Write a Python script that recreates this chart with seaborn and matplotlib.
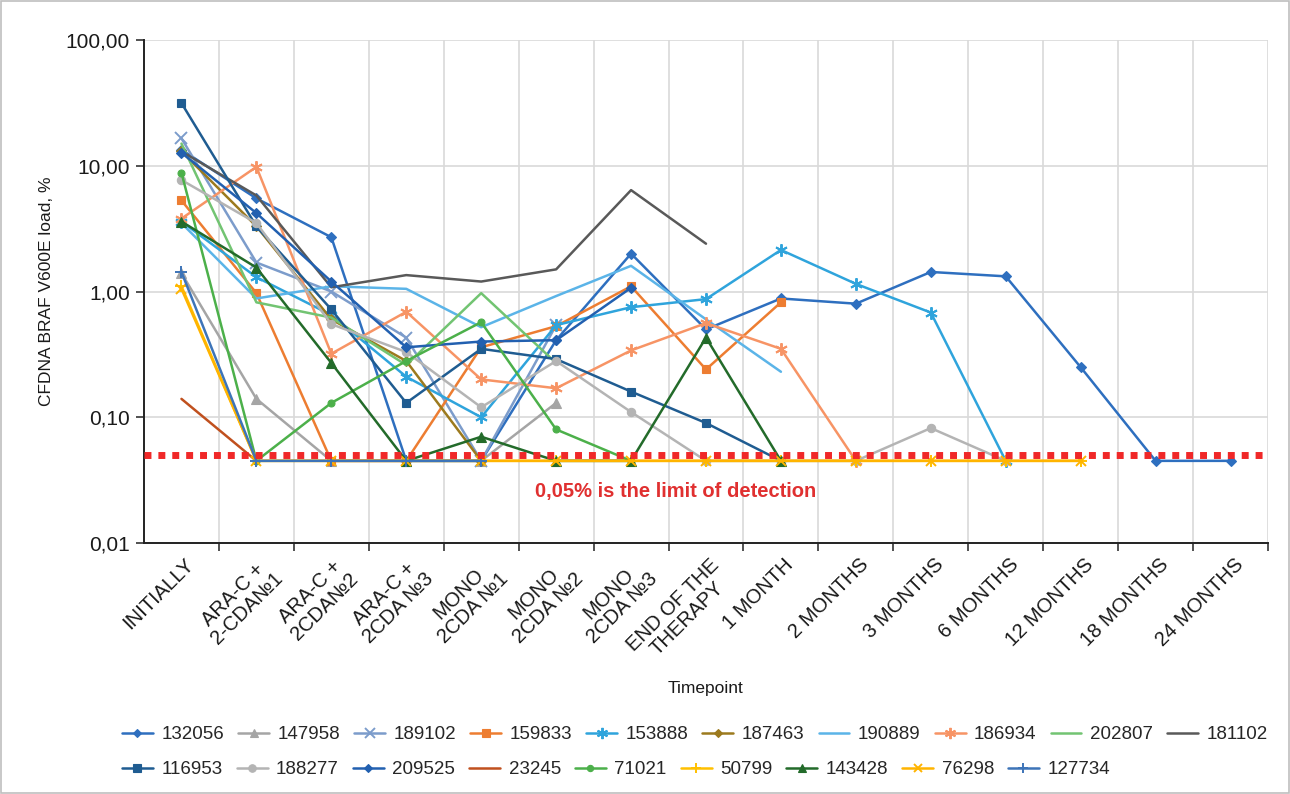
import numpy as np
import pandas as pd
import matplotlib
matplotlib.use("Agg")
import matplotlib.pyplot as plt
import matplotlib.transforms as mtransforms
from matplotlib.lines import Line2D
from matplotlib.patches import Rectangle
from matplotlib import font_manager
import seaborn as sns

# ---- data -----------------------------------------------------------------
timepoints = [
    "INITIALLY", "ARA-C +\n2-CDA№1", "ARA-C +\n2CDA№2", "ARA-C +\n2CDA №3",
    "MONO\n2CDA №1", "MONO\n2CDA №2", "MONO\n2CDA №3", "END OF THE\nTHERAPY",
    "1 MONTH", "2 MONTHS", "3 MONTHS", "6 MONTHS", "12 MONTHS", "18 MONTHS",
    "24 MONTHS",
]

LOD = 0.05      # limit of detection, %
ND = 0.045      # plotted level for samples below the limit of detection

patients = ["132056", "147958", "189102", "159833", "153888", "187463",
            "190889", "186934", "202807", "181102", "116953", "188277",
            "209525", "23245", "71021", "50799", "143428", "76298", "127734"]

p132056 = [13.4, 5.5, 2.7, ND, ND, 0.41, 2.0, 0.50, 0.88, 0.80, 1.43, 1.32, 0.25, ND, ND]
p147958 = [1.4, 0.14, ND, ND, ND, 0.13]
p189102 = [16.5, 1.7, 1.0, 0.43, ND, 0.54]
p159833 = [5.3, 0.97, ND, ND, 0.36, 0.53, 1.1, 0.24, 0.82]
p153888 = [3.6, 1.3, 0.65, 0.21, 0.10, 0.54, 0.75, 0.87, 2.14, 1.15, 0.68, ND]
p187463 = [13.0, 3.3, 0.60, 0.28, ND]
p190889 = [3.5, 0.88, 1.1, 1.05, 0.52, 0.92, 1.6, 0.60, 0.23]
p186934 = [3.8, 9.8, 0.32, 0.69, 0.20, 0.17, 0.34, 0.56, 0.35, ND]
p202807 = [15.0, 0.82, 0.62, 0.26, 0.97, 0.27]
p181102 = [13.0, 5.8, 1.08, 1.35, 1.2, 1.5, 6.4, 2.4]
p116953 = [31.5, 3.3, 0.72, 0.13, 0.35, 0.29, 0.16, 0.09, ND]
p188277 = [7.7, 3.5, 0.55, 0.33, 0.12, 0.28, 0.11, ND, ND, ND, 0.082, ND]
p209525 = [12.7, 4.2, 1.2, 0.36, 0.40, 0.41, 1.07]
p23245 = [0.14, ND]
p71021 = [8.8, ND, 0.13, 0.28, 0.57, 0.08, ND]
p50799 = [1.1, ND, ND, ND, ND, ND, ND, ND, ND, ND, ND, ND, ND]
p143428 = [3.6, 1.55, 0.27, ND, 0.07, ND, ND, 0.43, ND]
p76298 = [1.05, ND, ND, ND, ND, ND, ND, ND, ND, ND, ND, ND, ND]
p127734 = [1.43, ND, ND, ND, ND]

series_values = [p132056, p147958, p189102, p159833, p153888, p187463,
                 p190889, p186934, p202807, p181102, p116953, p188277,
                 p209525, p23245, p71021, p50799, p143428, p76298, p127734]

ytick_values = [0.01, 0.1, 1, 10, 100]
ytick_labels = ["0,01", "0,10", "1,00", "10,00", "100,00"]

# ---- styles ---------------------------------------------------------------
ASTER = (6, 2, 0)
styles = {
    "132056": ("#2E6FBF", "D", 5),
    "147958": ("#A5A5A5", "^", 7),
    "189102": ("#7C9CCB", "x", 8),
    "159833": ("#ED7D31", "s", 6),
    "153888": ("#2FA4DC", ASTER, 9),
    "187463": ("#9C7A1E", "D", 5),
    "190889": ("#5BB4E8", None, 0),
    "186934": ("#F79465", ASTER, 9),
    "202807": ("#72C472", None, 0),
    "181102": ("#595959", None, 0),
    "116953": ("#1F5C91", "s", 6),
    "188277": ("#B4B4B4", "o", 6),
    "209525": ("#2260B0", "D", 5),
    "23245": ("#C0501E", None, 0),
    "71021": ("#4CB04A", "o", 5),
    "50799": ("#FFC000", "+", 8),
    "143428": ("#236B2A", "^", 7),
    "76298": ("#FFB400", "x", 7),
    "127734": ("#3D74B8", "+", 8),
}

frames = []
for pid, vals in zip(patients, series_values):
    frames.append(pd.DataFrame({"patient": pid,
                                "pos": np.arange(len(vals)),
                                "load": vals}))
df = pd.concat(frames, ignore_index=True)

# ---- fonts ----------------------------------------------------------------
sns.set_theme(style="white")
plt.rcParams["font.family"] = ["Liberation Sans", "DejaVu Sans"]


def has_font(name):
    try:
        font_manager.findfont(name, fallback_to_default=False)
        return True
    except Exception:
        return False


narrow = ["Liberation Sans Narrow", "Liberation Sans", "DejaVu Sans"] \
    if has_font("Liberation Sans Narrow") else ["Liberation Sans", "DejaVu Sans"]
narrow_size = 14 if has_font("Liberation Sans Narrow") else 12.5

# ---- figure ---------------------------------------------------------------
W, H = 1290, 794
fig = plt.figure(figsize=(W / 100, H / 100), dpi=100)
ax = fig.add_axes([144 / W, 1 - 543 / H, (1268 - 144) / W, (543 - 40) / H])

for pid in patients:
    color, marker, ms = styles[pid]
    sub = df[df["patient"] == pid]
    sns.lineplot(data=sub, x="pos", y="load", ax=ax, color=color,
                 marker=marker if marker is not None else "",
                 markersize=ms, markeredgewidth=1.4 if marker in ("x", "+", ASTER) else 0.8,
                 markeredgecolor=color, linewidth=1.8, sort=False,
                 legend=False, estimator=None, zorder=3)

# limit of detection
ax.axhline(LOD, color="#F02828", linewidth=5, linestyle=(0, (1, 1)),
           dash_capstyle="butt", zorder=5)
ax.text((676 - 144) / (1268 - 144), (543 - 491) / (543 - 40),
        "0,05% is the limit of detection", transform=ax.transAxes,
        ha="center", va="center", color="#E03030", fontsize=14.5,
        fontweight="bold", zorder=6)

ax.set_yscale("log")
ax.set_ylim(0.01, 100)
ax.set_xlim(-0.5, 14.5)
ax.set_yticks(ytick_values)
ax.set_yticklabels(ytick_labels)
ax.yaxis.set_minor_locator(matplotlib.ticker.NullLocator())

# category positions; ticks and grid sit on the category boundaries
ax.set_xticks(np.arange(len(timepoints)))
ax.set_xticklabels([""] * len(timepoints))
ax.set_xticks(np.arange(len(timepoints)) + 0.5, minor=True)

label_tf = mtransforms.blended_transform_factory(ax.transData, ax.transAxes) + \
    mtransforms.ScaledTranslation(3 / 100, -12 / 100, fig.dpi_scale_trans)
for i, lab in enumerate(timepoints):
    ax.text(i, 0, lab, transform=label_tf, rotation=45, ha="right", va="top",
            rotation_mode="anchor", multialignment="center", fontsize=14.5,
            color="#1a1a1a", linespacing=1.05, clip_on=False)

ax.tick_params(axis="x", which="major", length=0, pad=0)
ax.tick_params(axis="x", which="minor", length=6, width=1.2, color="#333333",
               direction="out", bottom=True)
ax.tick_params(axis="y", which="major", length=6, width=1.2, color="#333333",
               direction="out", left=True, labelsize=15, labelcolor="#1a1a1a",
               pad=4)

ax.grid(False)
ax.yaxis.grid(True, which="major", color="#D9D9D9", linewidth=1.2)
ax.xaxis.grid(True, which="minor", color="#D9D9D9", linewidth=1.2)
ax.set_axisbelow(True)

for side in ("top", "right"):
    ax.spines[side].set_visible(False)
for side in ("left", "bottom"):
    ax.spines[side].set_color("#222222")
    ax.spines[side].set_linewidth(1.4)

ax.set_xlabel("")
ax.set_ylabel("CFDNA BRAF V600E load, %", fontsize=narrow_size, family=narrow,
              color="#1a1a1a")
ax.yaxis.set_label_coords((54 - 144) / (1268 - 144), 0.5)
fig.text(705 / W, 1 - 688 / H, "Timepoint", ha="center", va="center",
         fontsize=narrow_size, family=narrow, color="#1a1a1a")

# ---- legend (two flowing rows) -------------------------------------------
def handle(pid):
    color, marker, ms = styles[pid]
    return Line2D([0], [0], color=color, linewidth=1.8,
                  marker=marker if marker is not None else "",
                  markersize=ms * 0.9, markeredgecolor=color,
                  markeredgewidth=1.4 if marker in ("x", "+", ASTER) else 0.8)


legend_kw = dict(frameon=False, fontsize=13.5, handlelength=1.65,
                 handletextpad=0.45, columnspacing=0.75, borderpad=0,
                 borderaxespad=0, loc="upper left",
                 bbox_transform=fig.transFigure)
row1, row2 = patients[:10], patients[10:]
fig.legend([handle(p) for p in row1], row1, ncol=len(row1),
           bbox_to_anchor=(122 / W, 1 - 726 / H), **legend_kw)
fig.legend([handle(p) for p in row2], row2, ncol=len(row2),
           bbox_to_anchor=(122 / W, 1 - 761 / H), **legend_kw)

# thin frame around the whole figure
fig.add_artist(Rectangle((0.001, 0.001), 0.998, 0.998, transform=fig.transFigure,
                         fill=False, edgecolor="#BFBFBF", linewidth=1.2))

fig.savefig("out.png", dpi=100, facecolor="white")
